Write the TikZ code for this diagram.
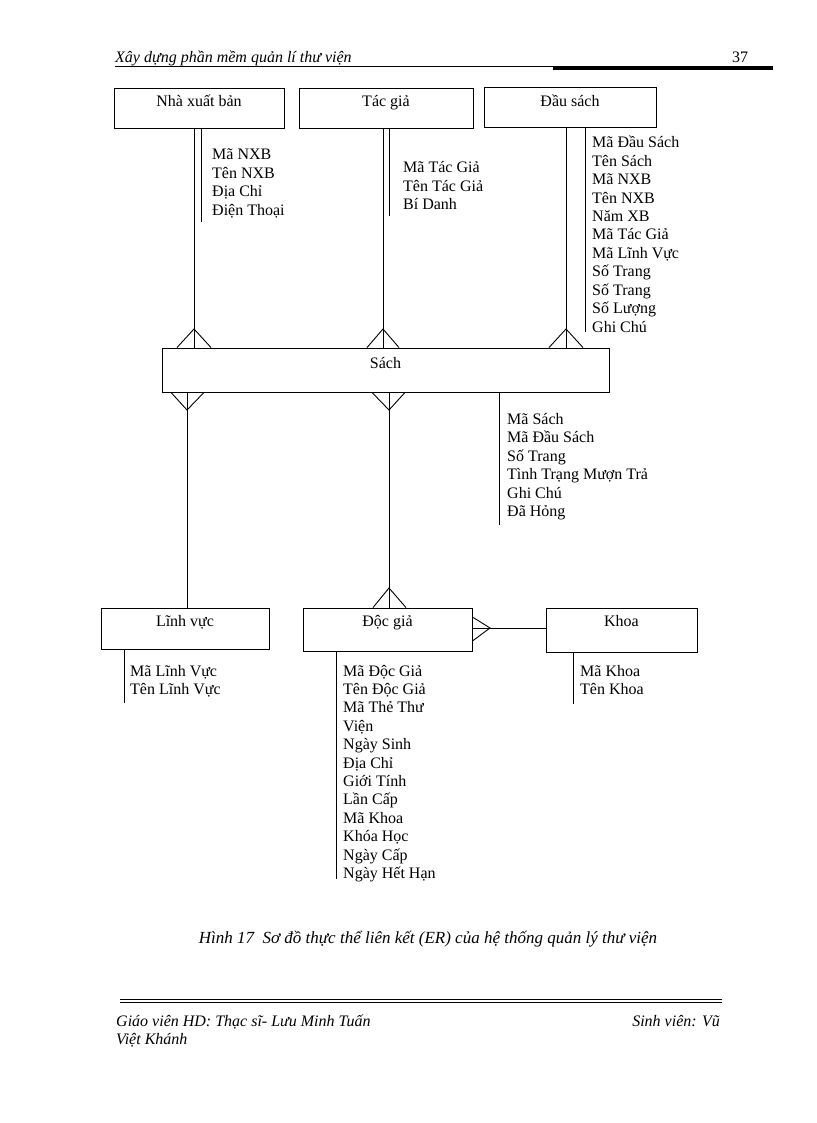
\documentclass[tikz,border=0pt]{standalone}
\usepackage{fontspec}
\setmainfont{Liberation Serif}
\usetikzlibrary{calc}
\begin{document}
\begin{tikzpicture}[x=1pt,y=-1pt,
  every node/.style={font=\fontsize{16}{18.4}\selectfont, inner sep=0pt},
  ent/.style={draw, line width=0.9pt, inner sep=0pt},
  elabel/.style={anchor=base},
  attr/.style={anchor=base west},
  conn/.style={line width=0.9pt},
  rule/.style={line width=0.8pt},
  ital/.style={font=\fontsize{16}{18.4}\selectfont\itshape}]
\useasboundingbox (0,0) rectangle (816,1123);
\fill[white] (0,0) rectangle (816,1123);

% header
\node[ital, anchor=base west] (hdr) at (115,63) {Xây dựng phần mềm quản lí thư viện};
\node[anchor=base west] (pg) at (732,63) {37};
\draw[rule] (hdr.base west) ++(0,3) coordinate (hl) -- (773,66);
\draw[line width=2.2pt] (553,68.5) -- (773,68.5);

% entities
\node[ent, minimum width=170, minimum height=40] (nxb) at (199,108) {};
\node[elabel] (nxbL) at ($(nxb.north)+(0,19)$) {Nhà xuất bản};
\node[ent, minimum width=174, minimum height=40] (tg) at (386,108) {};
\node[elabel] (tgL) at ($(tg.north)+(0,19)$) {Tác giả};
\node[ent, minimum width=172, minimum height=40] (ds) at (570,107) {};
\node[elabel] (dsL) at ($(ds.north)+(0,20)$) {Đầu sách};
\node[ent, minimum width=447, minimum height=44] (sach) at (385.5,370) {};
\node[elabel] (sachL) at ($(sach.north)+(0,21)$) {Sách};
\node[ent, minimum width=168, minimum height=41] (lv) at (185,628.5) {};
\node[elabel] (lvL) at ($(lv.north)+(0,19)$) {Lĩnh vực};
\node[ent, minimum width=169, minimum height=43] (dg) at (387.5,629.5) {};
\node[elabel] (dgL) at ($(dg.north)+(0,19)$) {Độc giả};
\node[ent, minimum width=151, minimum height=44] (kh) at (621.5,630) {};
\node[elabel] (khL) at ($(kh.north)+(0,19)$) {Khoa};

% connectors with crow's feet
\draw[conn] (194,0 |- nxb.south) -- (194,0 |- sach.north);
\draw[conn] (177,0 |- sach.north) -- (194,329) -- (211,0 |- sach.north);
\draw[conn] (383,0 |- tg.south) -- (383,0 |- sach.north);
\draw[conn] (367,0 |- sach.north) -- (383,329) -- (399,0 |- sach.north);
\draw[conn] (566,0 |- ds.south) -- (566,0 |- sach.north);
\draw[conn] (549,0 |- sach.north) -- (566,329) -- (583,0 |- sach.north);

\draw[conn] (187,0 |- sach.south) -- (187,0 |- lv.north);
\draw[conn] (171,0 |- sach.south) -- (187,410) -- (204,0 |- sach.south);
\draw[conn] (389,0 |- sach.south) -- (389,0 |- dg.north);
\draw[conn] (372,0 |- sach.south) -- (389,410) -- (405,0 |- sach.south);
\draw[conn] (373,0 |- dg.north) -- (389,588) -- (406,0 |- dg.north);

\draw[conn] (dg.east |- 0,628) -- (kh.west |- 0,628);
\draw[conn] (dg.east |- 0,617) -- (490,628) -- (dg.east |- 0,641);

% attribute lists
\draw[conn] (201,0 |- nxb.south) -- (201,222);
\foreach \t [count=\i] in {Mã NXB,Tên NXB,Địa Chỉ,Điện Thoại}
  \node[attr] (nxbA\i) at (212,{160+(\i-1)*18.4}) {\t};

\draw[conn] (389.5,0 |- tg.south) -- (389.5,216);
\foreach \t [count=\i] in {Mã Tác Giả,Tên Tác Giả,Bí Danh}
  \node[attr] (tgA\i) at (403,{173+(\i-1)*18.2}) {\t};

\draw[conn] (585,0 |- ds.south) -- (585,332);
\foreach \t [count=\i] in {Mã Đầu Sách,Tên Sách,Mã NXB,Tên NXB,Năm XB,Mã Tác Giả,Mã Lĩnh Vực,Số Trang,Số Trang,Số Lượng,Ghi Chú}
  \node[attr] (dsA\i) at (592,{148+(\i-1)*18.4}) {\t};

\draw[conn] (499,0 |- sach.south) -- (499,525);
\foreach \t [count=\i] in {Mã Sách,Mã Đầu Sách,Số Trang,Tình Trạng Mượn Trả,Ghi Chú,Đã Hỏng}
  \node[attr] (sA\i) at (507,{424+(\i-1)*18.5}) {\t};

\draw[conn] (124,0 |- lv.south) -- (124,703);
\foreach \t [count=\i] in {Mã Lĩnh Vực,Tên Lĩnh Vực}
  \node[attr] (lvA\i) at (130,{676+(\i-1)*18.4}) {\t};

\draw[conn] (336,0 |- dg.south) -- (336,879);
\foreach \t [count=\i] in {Mã Độc Giả,Tên Độc Giả,Mã Thẻ Thư,Viện,Ngày Sinh,Địa Chỉ,Giới Tính,Lần Cấp,Mã Khoa,Khóa Học,Ngày Cấp,Ngày Hết Hạn}
  \node[attr] (dgA\i) at (343,{676+(\i-1)*18.4}) {\t};

\draw[conn] (573,0 |- kh.south) -- (573,704);
\foreach \t [count=\i] in {Mã Khoa,Tên Khoa}
  \node[attr] (khA\i) at (580,{676+(\i-1)*18.4}) {\t};

% caption
\node[anchor=base, font=\fontsize{17}{19}\selectfont\itshape] (cap) at (428,943) {Hình 17\ \ Sơ đồ thực thể liên kết (ER) của hệ thống quản lý thư viện};

% footer
\draw[line width=1.5pt] (120,999.5) -- (722,999.5);
\draw[line width=0.8pt] (120,1002.5) -- (722,1002.5);
\node[ital, anchor=base west] (f1) at (116,1026) {Giáo viên HD: Thạc sĩ- Lưu Minh Tuấn};
\node[ital, anchor=base east] (f2) at (720,1026) {Sinh viên: Vũ};
\node[ital, anchor=base west] (f3) at (116,1044) {Việt Khánh};
\end{tikzpicture}
\end{document}
